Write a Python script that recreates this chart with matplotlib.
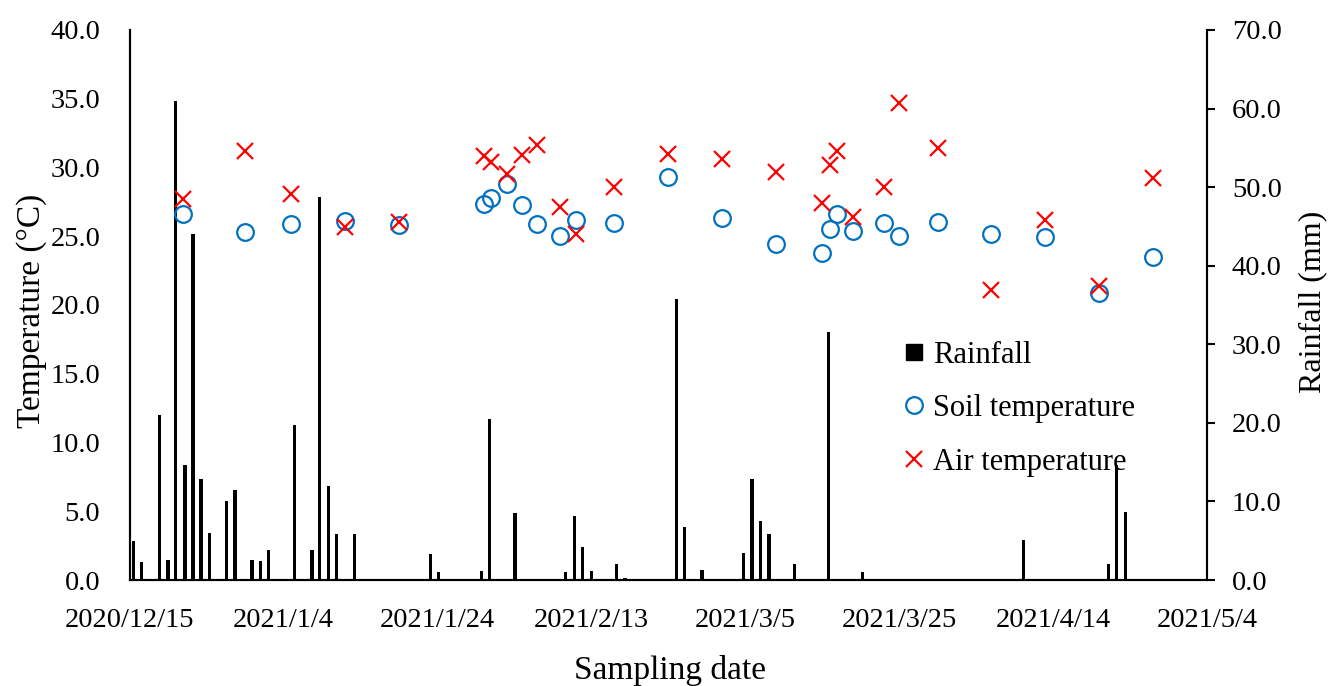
import datetime as dt
import matplotlib
matplotlib.use('Agg')
from matplotlib import pyplot as plt
from matplotlib.lines import Line2D
from matplotlib.ticker import FuncFormatter, MultipleLocator

start = dt.date(2020, 12, 15)

# sampling days (days after 2020/12/15)
temp_days = [7, 15, 21, 28, 35, 46, 47, 49, 51, 53, 56, 58, 63, 70, 77, 84,
             90, 91, 92, 94, 98, 100, 105, 112, 119, 126, 133]
soil_temp = [26.6, 25.3, 25.9, 26.1, 25.8, 27.35, 27.8, 28.8, 27.25, 25.9, 25.05,
             26.15, 25.95, 29.3, 26.3, 24.4, 23.8, 25.55, 26.6, 25.35, 25.95,
             25.0, 26.0, 25.15, 24.95, 20.9, 23.5]
air_temp = [27.7, 31.2, 28.1, 25.65, 26.0, 30.85, 30.4, 29.5, 30.9, 31.65, 27.1,
            25.15, 28.55, 31.0, 30.6, 29.7, 27.4, 30.2, 31.2, 26.4, 28.6,
            34.7, 31.4, 21.1, 26.15, 21.4, 29.25]

rain_days = [0.5, 1.6, 3.9, 5.0, 6.0, 7.2, 8.25, 9.3, 10.4, 11.5, 12.6, 13.7,
             15.9, 17.0, 18.1, 21.4, 23.7, 24.7, 25.9, 26.9, 29.2, 39.1, 40.2,
             45.7, 46.8, 50.1, 56.7, 57.8, 58.9, 60.0, 63.3, 64.4, 71.1, 72.1,
             74.4, 79.8, 80.9, 82.0, 83.1, 86.4, 90.8, 95.3, 107.4, 116.2,
             127.2, 128.3, 129.4]
rainfall = [5.0, 2.3, 21.0, 2.6, 60.9, 14.6, 44.0, 12.9, 6.0, 0.1, 10.1, 11.4,
            2.5, 2.4, 3.8, 19.7, 3.8, 48.7, 12.0, 5.8, 5.9, 3.35, 1.0,
            1.2, 20.5, 8.5, 1.0, 8.2, 4.2, 1.15, 2.0, 0.2, 35.7, 6.8,
            1.3, 3.5, 12.9, 7.5, 5.8, 2.1, 31.6, 1.0, 0.1, 5.15,
            2.0, 14.6, 8.6]


def date_label(x, pos):
    d = start + dt.timedelta(days=int(round(x)))
    return f'{d.year}/{d.month}/{d.day}'


def main():
    plt.rcParams['font.family'] = ['Liberation Serif', 'DejaVu Serif']
    fig = plt.figure(figsize=(13.3, 6.86), dpi=100)
    ax = fig.add_axes([0.0974, 0.1545, 0.81, 0.8018])
    ax2 = ax.twinx()

    ax2.bar(rain_days, rainfall, width=0.42, color='black')
    ax2.set_ylim(0, 70)
    ax2.yaxis.set_major_locator(MultipleLocator(10))
    ax2.yaxis.set_major_formatter(FuncFormatter(lambda v, p: f'{v:.1f}'))
    ax2.tick_params(axis='y', direction='out', length=6, width=1.5,
                    labelsize=20.5, pad=12)
    ax2.set_ylabel('Rainfall (mm)', fontsize=23)
    ax2.yaxis.set_label_coords(1.085, 0.505)

    ax.set_zorder(ax2.get_zorder() + 1)
    ax.patch.set_visible(False)
    ax.plot(temp_days, soil_temp, linestyle='none', marker='o', markersize=12,
            markerfacecolor='none', markeredgecolor='#0070C0', markeredgewidth=1.6)
    ax.plot(temp_days, air_temp, linestyle='none', marker='x', markersize=12,
            color='#FF0000', markeredgewidth=1.6)
    ax.set_xlim(0, 140)
    ax.set_ylim(0, 40)
    ax.xaxis.set_major_locator(MultipleLocator(20))
    ax.xaxis.set_major_formatter(FuncFormatter(date_label))
    ax.yaxis.set_major_locator(MultipleLocator(5))
    ax.yaxis.set_major_formatter(FuncFormatter(lambda v, p: f'{v:.1f}'))
    ax.tick_params(axis='both', length=0, labelsize=20.5, pad=20)
    ax.tick_params(axis='y', pad=21)
    ax.set_xlabel('Sampling date', fontsize=24)
    ax.xaxis.set_label_coords(0.502, -0.137)
    ax.set_ylabel('Temperature (°C)', fontsize=24)
    ax.yaxis.set_label_coords(-0.077, 0.49)

    for a in (ax, ax2):
        a.spines['top'].set_visible(False)
        for s in ('left', 'right', 'bottom'):
            a.spines[s].set_linewidth(1.5)

    handles = [
        Line2D([], [], linestyle='none', marker='s', markersize=11, color='black'),
        Line2D([], [], linestyle='none', marker='o', markersize=12,
               markerfacecolor='none', markeredgecolor='#0070C0', markeredgewidth=1.6),
        Line2D([], [], linestyle='none', marker='x', markersize=12,
               color='#FF0000', markeredgewidth=1.6),
    ]
    ax.legend(handles, ['Rainfall', 'Soil temperature', 'Air temperature'],
              loc='upper left', bbox_to_anchor=(0.703, 0.463), frameon=False,
              fontsize=22, handlelength=0.8, handletextpad=0.2, labelspacing=0.8,
              borderpad=0)

    fig.savefig('out.png', dpi=100)


if __name__ == '__main__':
    main()
